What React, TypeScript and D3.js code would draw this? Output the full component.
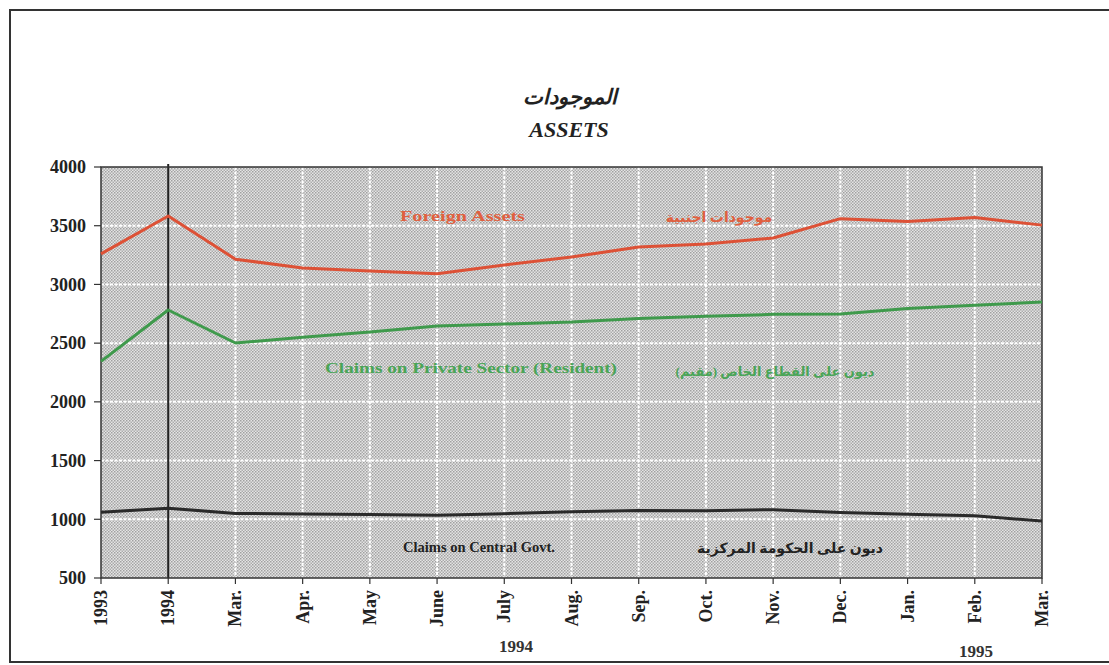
import React from "react";
import * as d3 from "d3";

const categories = ["1993", "1994", "Mar.", "Apr.", "May", "June", "July", "Aug.", "Sep.", "Oct.", "Nov.", "Dec.", "Jan.", "Feb.", "Mar."];
const foreignAssets = [3260, 3583, 3215, 3140, 3115, 3090, 3165, 3233, 3319, 3345, 3395, 3560, 3535, 3570, 3505];
const privateClaims = [2345, 2782, 2501, 2550, 2594, 2646, 2663, 2680, 2710, 2728, 2745, 2748, 2795, 2822, 2850];
const govtClaims = [1060, 1095, 1050, 1045, 1040, 1035, 1048, 1065, 1075, 1072, 1082, 1058, 1042, 1030, 985];
const yTicks = [500, 1000, 1500, 2000, 2500, 3000, 3500, 4000];

const W = 1109, H = 665;
const left = 101, right = 1042, top = 167, bottom = 578;
const SERIF = "'Liberation Serif', 'Times New Roman', 'DejaVu Sans', serif";

export default function App() {
  const x = d3.scalePoint<number>().domain(d3.range(categories.length)).range([left, right]);
  const y = d3.scaleLinear().domain([500, 4000]).range([bottom, top]);
  const line = d3.line<number>().x((_, i) => x(i)!).y((d) => y(d));

  const series = [
    { data: foreignAssets, color: "#dd5136" },
    { data: privateClaims, color: "#3f9a4c" },
    { data: govtClaims, color: "#2a2a2a" },
  ];

  return (
    <div style={{ position: "absolute", left: 0, top: 0 }}>
      <svg width={W} height={H} style={{ display: "block", background: "#fff" }}>
        <defs>
          <pattern id="dots" width="3" height="3" patternUnits="userSpaceOnUse">
            <rect width="3" height="3" fill="#e4e4e4" />
            <rect x="0" y="0" width="1.5" height="1.5" fill="#a0a0a0" />
            <rect x="1.5" y="1.5" width="1.5" height="1.5" fill="#acacac" />
          </pattern>
        </defs>
        <path d={`M${W},10 H10 V662 H${W}`} fill="none" stroke="#333" strokeWidth={2} />

        <text x={570} y={104} textAnchor="middle" fontFamily={SERIF} fontStyle="italic" fontWeight="bold" fontSize={21} fill="#222">الموجودات</text>
        <text x={569} y={137} textAnchor="middle" fontFamily={SERIF} fontStyle="italic" fontWeight="bold" fontSize={22} fill="#222">ASSETS</text>

        <rect x={left} y={top} width={right - left} height={bottom - top} fill="url(#dots)" />
        {yTicks.slice(1, -1).map((t) => (
          <line key={"h" + t} x1={left} x2={right} y1={y(t)} y2={y(t)} stroke="#fff" strokeWidth={2} strokeDasharray="3 1.5" />
        ))}
        {categories.map((_, i) => (i === 0 || i === 1 || i === categories.length - 1 ? null : (
          <line key={"v" + i} x1={x(i)} x2={x(i)} y1={top} y2={bottom} stroke="#fff" strokeWidth={2} strokeDasharray="3 1.5" />
        )))}
        <line x1={x(1)} x2={x(1)} y1={top - 3} y2={bottom} stroke="#222" strokeWidth={2} />
        <rect x={left} y={top} width={right - left} height={bottom - top} fill="none" stroke="#333" strokeWidth={1.5} />

        {yTicks.map((t) => (
          <g key={"yt" + t}>
            <line x1={left - 7} x2={left} y1={y(t)} y2={y(t)} stroke="#333" strokeWidth={1.2} />
            <text x={86} y={y(t)} dy="0.35em" textAnchor="end" fontFamily={SERIF} fontWeight="bold" fontSize={18} fill="#222">{t}</text>
          </g>
        ))}
        {categories.map((c, i) => (
          <g key={"xt" + i}>
            <line x1={x(i)} x2={x(i)} y1={bottom} y2={bottom + 6} stroke="#333" strokeWidth={1.2} />
            <text transform={`translate(${x(i)! + 6},${bottom + 12}) rotate(-90)`} textAnchor="end" fontFamily={SERIF} fontWeight="bold" fontSize={18} fill="#222">{c}</text>
          </g>
        ))}
        <text x={516} y={652} textAnchor="middle" fontFamily={SERIF} fontWeight="bold" fontSize={17} fill="#333">1994</text>
        <text x={976} y={657} textAnchor="middle" fontFamily={SERIF} fontWeight="bold" fontSize={17} fill="#333">1995</text>

        {series.map((s, i) => (
          <path key={"s" + i} d={line(s.data)!} fill="none" stroke={s.color} strokeWidth={3} strokeLinejoin="round" />
        ))}

        <text x={400} y={221} textLength={125} lengthAdjust="spacingAndGlyphs" fontFamily={SERIF} fontWeight="bold" fontSize={15} fill="#e0603f">Foreign Assets</text>
        <text x={719} y={222} textAnchor="middle" fontFamily={SERIF} fontWeight="bold" fontSize={14} fill="#e0603f">موجودات اجنبية</text>
        <text x={325} y={373} textLength={292} lengthAdjust="spacingAndGlyphs" fontFamily={SERIF} fontWeight="bold" fontSize={15} fill="#4aa557">Claims on Private Sector (Resident)</text>
        <text x={775} y={376} textAnchor="middle" fontFamily={SERIF} fontWeight="bold" fontSize={13} fill="#4aa557">ديون على القطاع الخاص (مقيم)</text>
        <text x={403} y={552} textLength={152} lengthAdjust="spacingAndGlyphs" fontFamily={SERIF} fontWeight="bold" fontSize={15} fill="#222">Claims on Central Govt.</text>
        <text x={790} y={553} textAnchor="middle" fontFamily={SERIF} fontWeight="bold" fontSize={14} fill="#222">ديون على الحكومة المركزية</text>
      </svg>
    </div>
  );
}
